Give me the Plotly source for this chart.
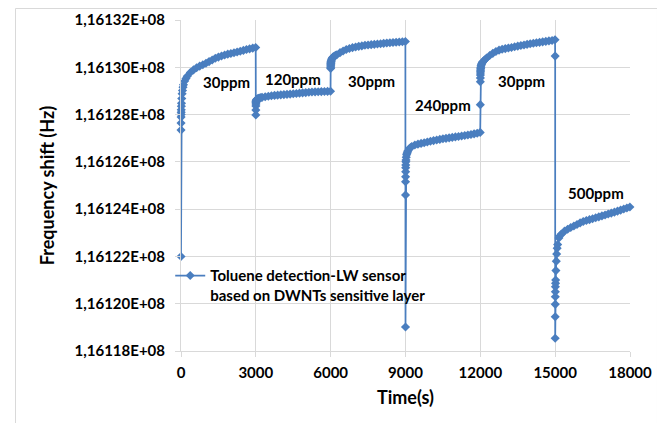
import plotly.graph_objects as go

# ---- data ----
segment_start_s = [0, 3000, 6000, 9000, 12000, 15000]
offsets_s = [0, 1, 2, 4, 6, 8, 10, 15, 20, 30, 45, 60, 80, 100, 150, 200, 250,
             375, 500, 625, 750, 875, 1000, 1125, 1250, 1375, 1500, 1625, 1750,
             1875, 2000, 2125, 2250, 2375, 2500, 2625, 2750, 2875, 2995]

seg1_hz = [116122000, 116127344, 116127640, 116127894, 116128000, 116128100, 116128200,
           116128350, 116128480, 116128680, 116128880, 116129020, 116129160, 116129260,
           116129420, 116129530, 116129620, 116129780, 116129890, 116129980, 116130050,
           116130110, 116130170, 116130240, 116130310, 116130380, 116130430, 116130480,
           116130520, 116130555, 116130585, 116130615, 116130645, 116130680, 116130715,
           116130750, 116130780, 116130810, 116130840]
seg2_hz = [116127980, 116128190, 116128360, 116128450, 116128500, 116128530, 116128550,
           116128580, 116128600, 116128625, 116128645, 116128660, 116128672, 116128684,
           116128700, 116128715, 116128728, 116128752, 116128775, 116128795, 116128810,
           116128822, 116128834, 116128845, 116128855, 116128865, 116128880, 116128893,
           116128906, 116128918, 116128930, 116128942, 116128952, 116128960, 116128966,
           116128972, 116128976, 116128980, 116128985]
seg3_hz = [116129950, 116130000, 116130050, 116130100, 116130140, 116130170, 116130200,
           116130240, 116130270, 116130310, 116130350, 116130380, 116130410, 116130440,
           116130480, 116130505, 116130530, 116130620, 116130690, 116130750, 116130795,
           116130830, 116130860, 116130885, 116130905, 116130930, 116130945, 116130958,
           116130970, 116130985, 116130998, 116131012, 116131025, 116131037, 116131048,
           116131058, 116131068, 116131078, 116131090]
seg4_hz = [116119015, 116124596, 116125158, 116125370, 116125580, 116125750, 116125864,
           116126000, 116126075, 116126200, 116126300, 116126360, 116126420, 116126470,
           116126550, 116126610, 116126650, 116126710, 116126750, 116126780, 116126807,
           116126840, 116126870, 116126900, 116126925, 116126950, 116126975, 116126995,
           116127015, 116127035, 116127055, 116127075, 116127095, 116127115, 116127135,
           116127160, 116127185, 116127210, 116127245]
seg5_hz = [116128420, 116129386, 116129550, 116129670, 116129760, 116129830, 116129881,
           116129950, 116130000, 116130060, 116130120, 116130160, 116130200, 116130230,
           116130290, 116130340, 116130390, 116130500, 116130590, 116130670, 116130725,
           116130760, 116130790, 116130815, 116130840, 116130870, 116130895, 116130920,
           116130945, 116130970, 116130995, 116131015, 116131035, 116131055, 116131075,
           116131095, 116131115, 116131135, 116131165]
seg6_hz = [116130473, 116118537, 116119450, 116119974, 116120296, 116120507, 116120719,
           116120862, 116121002, 116121400, 116121800, 116122100, 116122350, 116122500,
           116122780, 116122880, 116122950, 116123070, 116123150, 116123222, 116123288,
           116123353, 116123419, 116123477, 116123517, 116123556, 116123596, 116123635,
           116123675, 116123714, 116123754, 116123794, 116123833, 116123873, 116123915,
           116123960, 116124004, 116124048, 116124090]

x_tick_vals = [0, 3000, 6000, 9000, 12000, 15000, 18000]
x_tick_text = ["0", "3000", "6000", "9000", "12000", "15000", "18000"]
y_tick_vals = [116118000, 116120000, 116122000, 116124000, 116126000, 116128000,
               116130000, 116132000]
y_tick_text = ["1,16118E+08", "1,16120E+08", "1,16122E+08", "1,16124E+08",
               "1,16126E+08", "1,16128E+08", "1,16130E+08", "1,16132E+08"]

label_text = ["30ppm", "120ppm", "30ppm", "240ppm", "30ppm", "500ppm"]
label_x = [1808, 4480, 7640, 10520, 13640, 16620]
label_y = [116129373, 116129500, 116129416, 116128401, 116129416, 116124680]

series_name = "Toluene detection-LW sensor<br>based on DWNTs sensitive layer"

# ---- build series ----
segments = [seg1_hz, seg2_hz, seg3_hz, seg4_hz, seg5_hz, seg6_hz]
time_s, freq_hz = [], []
for start, vals in zip(segment_start_s, segments):
    for off, v in zip(offsets_s, vals):
        time_s.append(start + off)
        freq_hz.append(v)

BLUE = "#4A7EBF"
GRID = "#D9D9D9"
FONT = "Lato"

fig = go.Figure()
fig.add_trace(go.Scatter(
    x=time_s, y=freq_hz, mode="lines+markers", name=series_name,
    line=dict(color=BLUE, width=1.75),
    marker=dict(symbol="diamond", size=7, color=BLUE),
    cliponaxis=False,
))

for t, xx, yy in zip(label_text, label_x, label_y):
    fig.add_annotation(x=xx, y=yy, xref="x", yref="y", text=t, showarrow=False,
                       font=dict(family=FONT, size=15, color="black", weight="bold"))

fig.add_shape(type="rect", xref="paper", yref="paper",
              x0=-0.3686, x1=1.0612, y0=-0.25, y1=1.0347,
              line=dict(color=GRID, width=1), fillcolor="rgba(0,0,0,0)", layer="below")

fig.update_layout(
    width=657, height=415,
    margin=dict(l=173, r=35, t=12, b=72, autoexpand=False),
    paper_bgcolor="white", plot_bgcolor="white",
    font=dict(family=FONT, size=15, color="black", weight="bold"),
    showlegend=True,
    legend=dict(x=-0.024, y=0.277, xanchor="left", yanchor="top",
                bgcolor="rgba(0,0,0,0)", valign="top",
                font=dict(family=FONT, size=15, color="black", weight="bold")),
    xaxis=dict(range=[0, 18000], tickvals=x_tick_vals, ticktext=x_tick_text,
               automargin=False,
               showgrid=True, gridcolor=GRID, gridwidth=1,
               showline=True, linecolor=GRID, linewidth=1,
               ticks="outside", ticklen=5, tickcolor=GRID, ticklabelstandoff=3,
               zeroline=False,
               title=dict(text="Time(s)", standoff=11,
                          font=dict(family=FONT, size=18, color="black", weight="bold"))),
    yaxis=dict(range=[116118000, 116132000], tickvals=y_tick_vals, ticktext=y_tick_text,
               automargin=False,
               showgrid=True, gridcolor=GRID, gridwidth=1,
               showline=True, linecolor=GRID, linewidth=1,
               ticks="outside", ticklen=5, tickcolor=GRID, ticklabelstandoff=7,
               zeroline=False,
               title=dict(text="Frequency shift (Hz)", standoff=15,
                          font=dict(family=FONT, size=18, color="black", weight="bold"))),
)

fig.write_html("out.html")
